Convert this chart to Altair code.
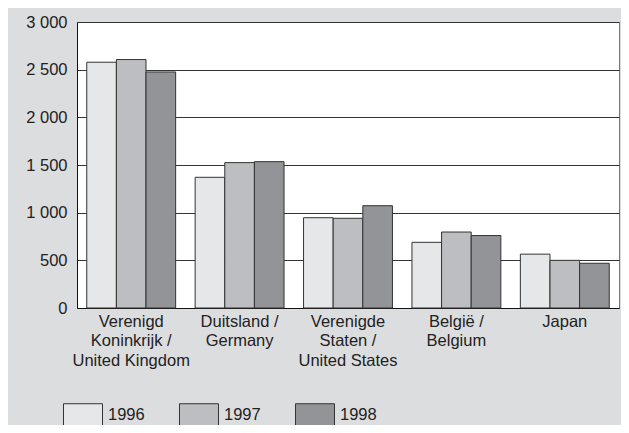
import altair as alt
import pandas as pd

countries = [
    "Verenigd|Koninkrijk /|United Kingdom",
    "Duitsland /|Germany",
    "Verenigde|Staten /|United States",
    "België /|Belgium",
    "Japan",
]
years = ["1996", "1997", "1998"]
v1996 = [2578, 1371, 947, 689, 565]
v1997 = [2606, 1525, 941, 797, 500]
v1998 = [2476, 1535, 1073, 760, 469]
colors = ["#e6e7e9", "#bdbec1", "#939497"]

rows = []
for i, c in enumerate(countries):
    for y, vals in zip(years, [v1996, v1997, v1998]):
        rows.append({"country": c, "year": y, "value": vals[i]})
df = pd.DataFrame(rows)

FONT = "Liberation Sans"
FS = 16.5

chart = alt.Chart(df).mark_bar(stroke="#333333", strokeWidth=1).encode(
    x=alt.X("country:N", sort=countries, title=None,
            scale=alt.Scale(paddingInner=0.18, paddingOuter=0.09),
            axis=alt.Axis(labelAngle=0, labelExpr="split(datum.label, '|')",
                          labelLineHeight=19.5, labelPadding=5, ticks=False,
                          domainColor="#111111", labelFontSize=FS,
                          labelColor="#222222", labelFont=FONT)),
    xOffset=alt.XOffset("year:N", sort=years, scale=alt.Scale(paddingInner=0, paddingOuter=0)),
    y=alt.Y("value:Q", title=None,
            scale=alt.Scale(domain=[0, 3000], nice=False),
            axis=alt.Axis(values=[0, 500, 1000, 1500, 2000, 2500, 3000],
                          labelExpr="replace(format(datum.value, ','), ',', ' ')",
                          ticks=False, labelPadding=10, domainColor="#111111",
                          gridColor="#333333", gridWidth=1, labelFontSize=FS,
                          labelColor="#222222", labelFont=FONT)),
    color=alt.Color("year:N", sort=years, title=None,
                    scale=alt.Scale(domain=years, range=colors),
                    legend=alt.Legend(orient="none", direction="horizontal",
                                      legendX=-14, legendY=373,
                                      symbolType="M-1,-0.59H1V0.59H-1Z",
                                      symbolSize=1521, symbolStrokeColor="#333333",
                                      symbolStrokeWidth=1, symbolOpacity=1,
                                      labelFontSize=FS, labelColor="#222222",
                                      labelFont=FONT, labelOffset=5,
                                      columnPadding=32)),
).properties(
    width=542, height=286,
    autosize=alt.AutoSizeParams(type="none"),
    padding={"left": 69, "top": 14, "right": 2, "bottom": 117},
    background="#dcdddf",
).configure_view(
    fill="white", stroke="#777777", strokeWidth=1
)

chart.save("out.html", embed_options={"renderer": "svg", "actions": False})
